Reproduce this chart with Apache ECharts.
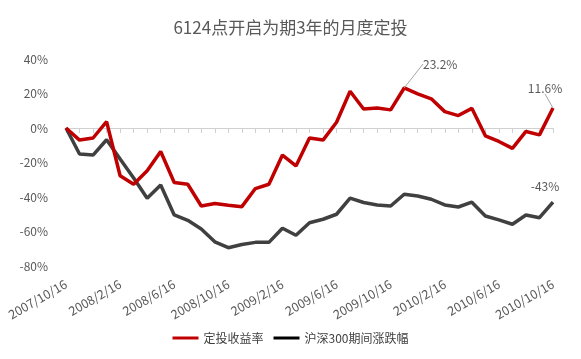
<!DOCTYPE html>
<html><head><meta charset="utf-8">
<script src="https://cdn.jsdelivr.net/npm/echarts@6/dist/echarts.min.js"></script>
<style>html,body{margin:0;padding:0;background:#fff;}#c{width:581px;height:359px;}</style>
</head><body><div id="c"></div>
<script>
const titleText = '6124点开启为期3年的月度定投';
const dates = ['2007/10/16','2007/11/16','2007/12/16','2008/1/16','2008/2/16','2008/3/16','2008/4/16','2008/5/16','2008/6/16','2008/7/16','2008/8/16','2008/9/16','2008/10/16','2008/11/16','2008/12/16','2009/1/16','2009/2/16','2009/3/16','2009/4/16','2009/5/16','2009/6/16','2009/7/16','2009/8/16','2009/9/16','2009/10/16','2009/11/16','2009/12/16','2010/1/16','2010/2/16','2010/3/16','2010/4/16','2010/5/16','2010/6/16','2010/7/16','2010/8/16','2010/9/16','2010/10/16'];
const seriesNames = ['定投收益率','沪深300期间涨跌幅'];
const dcaReturn = [0,-7,-5.8,3.7,-27.7,-32.6,-24.8,-13.6,-31.6,-32.6,-45.2,-43.8,-44.8,-45.6,-35.1,-32.6,-15.7,-22,-5.8,-7,3.3,21.3,11,11.6,10.5,23.2,19.8,16.9,9.5,7.2,11.4,-4.5,-7.8,-11.8,-2,-4,11.6];
const hs300 = [0,-15.1,-15.7,-6.8,-18,-29,-40.7,-33,-50.4,-53.5,-58.5,-66,-69.4,-67.5,-66.3,-66.3,-58.1,-62.2,-54.9,-52.9,-50,-40.7,-43.2,-44.6,-45.2,-38.4,-39.4,-41.3,-44.6,-45.8,-43,-51,-53.3,-55.8,-50.4,-52,-43];
const yTicks = {min:-80, max:40, interval:20};
const labeledRed = [25, 36];
const labeledBlack = [36];

const FONT = '"Noto Sans CJK SC", "Noto Sans", sans-serif';
function build(vals, labeled, withLine){
  return vals.map((v,i)=>{
    if(labeled.indexOf(i) < 0) return v;
    return {value:v, label:{show:true}, labelLine:{show:withLine, lineStyle:{color:'#a6a6a6', width:1}}};
  });
}
const chart = echarts.init(document.getElementById('c'));
chart.setOption({
  animation:false,
  backgroundColor:'#fff',
  title:{text:titleText, left:'center', top:19, padding:0,
    textStyle:{fontFamily:FONT, fontSize:17, fontWeight:'normal', color:'#595959'}},
  legend:{top:332, left:'center', padding:0, icon:'rect', itemWidth:26, itemHeight:3, itemGap:10,
    textStyle:{fontFamily:FONT, fontSize:12, color:'#404040'},
    data:[{name:seriesNames[0], itemStyle:{color:'#C00000', opacity:1}},{name:seriesNames[1], itemStyle:{color:'#000', opacity:1}}]},
  grid:{left:66, right:28, top:59, bottom:93},
  xAxis:[
    {type:'category', data:dates, boundaryGap:false, position:'bottom',
      axisLine:{show:false, onZero:false}, axisTick:{show:false},
      axisLabel:{interval:3, rotate:30, margin:17, fontFamily:FONT, fontSize:12.5, color:'#595959'},
      splitLine:{show:false}},
    {type:'category', data:dates, boundaryGap:false, position:'top',
      axisLine:{show:true, onZero:true, lineStyle:{color:'#d0d0d0', width:1}},
      axisTick:{show:true, inside:true, length:5, interval:0, lineStyle:{color:'#d0d0d0'}},
      axisLabel:{show:false}, splitLine:{show:false}}
  ],
  yAxis:{type:'value', min:yTicks.min, max:yTicks.max, interval:yTicks.interval,
    axisLine:{show:false}, axisTick:{show:false}, splitLine:{show:false},
    axisLabel:{formatter:'{value}%', margin:18, fontFamily:FONT, fontSize:12, color:'#595959'}},
  series:[
    {name:seriesNames[0], type:'line', xAxisIndex:0, data:build(dcaReturn, labeledRed, true),
      showSymbol:true, symbol:'circle', symbolSize:0.01, lineStyle:{color:'#C00000', width:3.5}, itemStyle:{color:'#C00000'},
      label:{show:false, position:'top', distance:4, formatter:p=>p.value+'%', fontFamily:FONT, fontSize:12, color:'#595959'},
      labelLayout:function(p){
        if(p.dataIndex===25) return {dx:36, dy:-14};
        if(p.dataIndex===36) return {dx:-8, dy:-10};
        return {};
      }, z:3},
    {name:seriesNames[1], type:'line', xAxisIndex:0, data:build(hs300, labeledBlack, false),
      showSymbol:true, symbol:'circle', symbolSize:0.01, lineStyle:{color:'#404040', width:3.5}, itemStyle:{color:'#404040'},
      label:{show:false, position:'top', distance:4, formatter:p=>p.value+'%', fontFamily:FONT, fontSize:12, color:'#595959'},
      labelLayout:function(p){
        if(p.dataIndex===36) return {dx:-8, dy:-6};
        return {};
      }, z:2}
  ]
});
</script></body></html>
